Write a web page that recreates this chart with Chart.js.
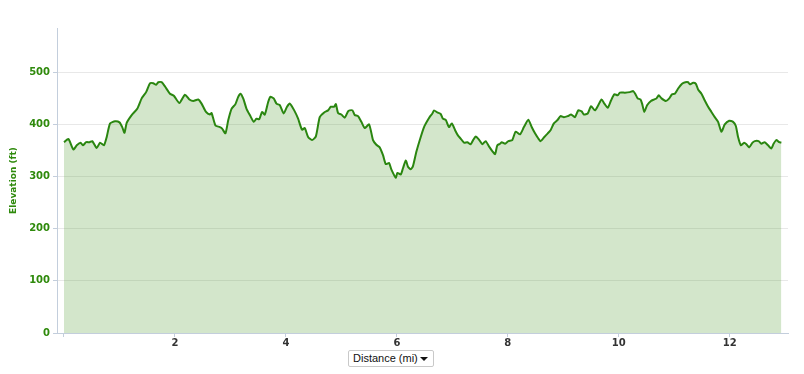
<!DOCTYPE html>
<html>
<head>
<meta charset="utf-8">
<script src="https://cdn.jsdelivr.net/npm/chart.js@4/dist/chart.umd.min.js"></script>
<style>
  html, body { margin: 0; padding: 0; background: #fff; }
  #wrap { position: relative; width: 804px; height: 374px; }
  #unit {
    position: absolute; left: 348px; top: 350px; width: 84px; height: 15px;
    border: 1px solid #c9c9c9; border-radius: 2px; background: #fff;
    font: 11px "Liberation Sans", Arial, sans-serif; color: #111;
    line-height: 15px; box-sizing: content-box;
  }
  #unit span.txt { position: absolute; left: 4px; top: 0; }
  #unit span.arrow {
    position: absolute; right: 5px; top: 6px; width: 0; height: 0;
    border-left: 4px solid transparent; border-right: 4px solid transparent;
    border-top: 4px solid #111;
  }
</style>
</head>
<body>
<div id="wrap">
  <canvas id="elev_chart" width="804" height="374"></canvas>
  <div id="unit"><span class="txt">Distance (mi)</span><span class="arrow"></span></div>
</div>
<script>
const distance = [
  0.00, 0.08, 0.17, 0.23, 0.30, 0.34, 0.40, 0.46, 0.51, 0.59, 0.65, 0.72, 0.77, 0.83, 0.92,
  1.00, 1.05, 1.09, 1.13, 1.22, 1.32, 1.40, 1.48, 1.55, 1.61, 1.66, 1.70, 1.76, 1.82, 1.91,
  1.98, 2.08, 2.18, 2.26, 2.33, 2.42, 2.48, 2.56, 2.63, 2.66, 2.73, 2.81, 2.85, 2.91, 2.96,
  3.02, 3.09, 3.14, 3.18, 3.23, 3.29, 3.35, 3.42, 3.47, 3.52, 3.57, 3.62, 3.68, 3.72, 3.78,
  3.83, 3.89, 3.96, 4.02, 4.07, 4.15, 4.22, 4.29, 4.34, 4.40, 4.47, 4.54, 4.61, 4.69, 4.76,
  4.81, 4.87, 4.90, 4.94, 5.00, 5.06, 5.12, 5.15, 5.20, 5.24, 5.30, 5.36, 5.42, 5.50, 5.57,
  5.63, 5.69, 5.75, 5.80, 5.86, 5.90, 5.98, 6.01, 6.07, 6.11, 6.16, 6.20, 6.25, 6.29, 6.35,
  6.43, 6.49, 6.55, 6.59, 6.64, 6.67, 6.73, 6.79, 6.83, 6.88, 6.94, 6.99, 7.05, 7.10, 7.15,
  7.21, 7.27, 7.33, 7.38, 7.42, 7.48, 7.54, 7.60, 7.66, 7.72, 7.77, 7.81, 7.86, 7.89, 7.95,
  8.01, 8.08, 8.14, 8.22, 8.29, 8.37, 8.43, 8.49, 8.55, 8.59, 8.65, 8.72, 8.77, 8.83, 8.90,
  8.95, 9.01, 9.08, 9.14, 9.21, 9.27, 9.33, 9.37, 9.44, 9.50, 9.57, 9.63, 9.69, 9.74, 9.80,
  9.86, 9.92, 9.98, 10.02, 10.11, 10.20, 10.26, 10.30, 10.34, 10.39, 10.42, 10.46, 10.51, 10.58, 10.64,
  10.68, 10.72, 10.77, 10.85, 10.91, 10.96, 11.01, 11.07, 11.14, 11.20, 11.25, 11.28, 11.34, 11.39, 11.43,
  11.49, 11.55, 11.61, 11.67, 11.73, 11.79, 11.85, 11.91, 11.99, 12.06, 12.11, 12.15, 12.20, 12.26, 12.30,
  12.35, 12.41, 12.45, 12.52, 12.57, 12.63, 12.69, 12.75, 12.79, 12.84, 12.89, 12.93
];
const elevation = [
  366, 372, 352, 360, 365, 360, 366, 366, 368, 355, 365, 360, 376, 402, 406,
  404, 395, 384, 403, 418, 430, 450, 462, 479, 479, 476, 481, 481, 473, 459,
  455, 441, 457, 448, 445, 448, 440, 424, 419, 422, 398, 395, 392, 383, 408,
  430, 439, 453, 459, 450, 430, 418, 405, 411, 410, 424, 419, 443, 453, 450,
  440, 437, 421, 434, 440, 427, 411, 390, 393, 376, 370, 377, 414, 423, 427,
  434, 434, 439, 422, 419, 413, 425, 427, 427, 418, 416, 405, 393, 400, 370,
  361, 356, 341, 324, 326, 314, 298, 307, 304, 316, 331, 319, 314, 320, 347,
  376, 395, 407, 414, 421, 427, 423, 420, 411, 409, 395, 402, 389, 379, 373,
  365, 366, 362, 371, 377, 371, 362, 368, 358, 349, 343, 360, 363, 366, 363,
  368, 370, 386, 381, 395, 409, 395, 383, 373, 368, 375, 383, 389, 402, 409,
  416, 414, 416, 419, 414, 427, 425, 419, 421, 435, 427, 437, 448, 440, 432,
  446, 458, 456, 461, 461, 462, 464, 458, 450, 448, 440, 424, 437, 445, 448,
  450, 456, 450, 445, 450, 458, 459, 469, 478, 481, 481, 477, 480, 478, 467,
  459, 446, 434, 424, 414, 405, 386, 400, 407, 405, 397, 376, 360, 365, 362,
  356, 365, 368, 368, 363, 366, 360, 354, 363, 370, 366, 365
];
const xTicks = [0, 2, 4, 6, 8, 10, 12];
const yTicks = [0, 100, 200, 300, 400, 500];

const green = "#2f8a0c";
const axisColor = "#c3cedc";

const ctx = document.getElementById("elev_chart");

new Chart(ctx, {
  type: "line",
  data: {
    datasets: [
      {
        label: "Elevation",
        data: distance.map((d, i) => ({ x: d, y: elevation[i] })),
        borderColor: "rgb(42, 134, 16)",
        borderWidth: 2,
        backgroundColor: "rgba(79, 155, 47, 0.25)",
        fill: "origin",
        pointRadius: 0,
        tension: 0.2,
      },
    ],
  },
  options: {
    responsive: false,
    animation: false,
    layout: { padding: { top: 28, right: 16, left: 0, bottom: 0 } },
    plugins: {
      legend: { display: false },
      tooltip: { enabled: false },
    },
    scales: {
      x: {
        type: "linear",
        min: -0.126,
        max: 13.05,
        afterBuildTicks: (scale) => {
          scale.ticks = xTicks.map((v) => ({ value: v }));
        },
        afterFit: (scale) => {
          scale.height = 41;
        },
        ticks: {
          callback: (v) => (v === 0 ? "" : v),
          color: "#333",
          font: { family: "DejaVu Sans", size: 10, weight: "bold" },
          padding: 0,
          maxRotation: 0,
          autoSkip: false,
        },
        grid: { drawOnChartArea: false, tickLength: 4, color: axisColor },
        border: { color: axisColor },
      },
      y: {
        min: 0,
        max: 585,
        afterBuildTicks: (scale) => {
          scale.ticks = yTicks.map((v) => ({ value: v }));
        },
        afterFit: (scale) => {
          scale.width = 57;
        },
        ticks: {
          color: green,
          font: { family: "DejaVu Sans", size: 10, weight: "bold" },
          padding: 3,
        },
        grid: { color: "#e8e8e8", tickLength: 4, tickColor: axisColor },
        border: { color: axisColor },
        title: {
          display: true,
          text: "Elevation (ft)",
          color: green,
          font: { family: "DejaVu Sans", size: 9, weight: "bold" },
          padding: { top: 8, bottom: 0 },
        },
      },
    },
  },
});
</script>
</body>
</html>
